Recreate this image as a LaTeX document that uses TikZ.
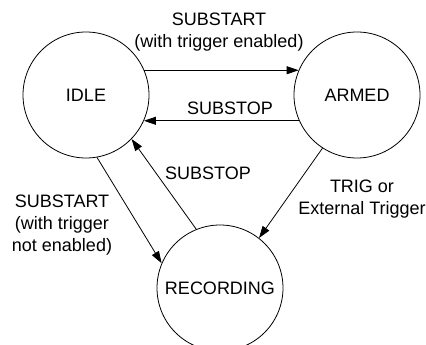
\documentclass[tikz,border=0pt]{standalone}
\usepackage{fontspec}
\setmainfont{Liberation Sans}
\usetikzlibrary{arrows.meta}
\begin{document}
\begin{tikzpicture}[x=1pt,y=-1pt,
  state/.style={circle,draw,line width=0.8pt,minimum size=126pt,inner sep=0pt,font=\fontsize{18}{21}\selectfont},
  lbl/.style={align=center,inner sep=0pt,font=\fontsize{18}{22}\selectfont},
  arr/.style={line width=0.8pt,-{Triangle[length=12pt,width=8pt]}}]
\useasboundingbox (0,0) rectangle (426,345);
\node[state] (idle) at (86,95) {IDLE};
\node[state] (armed) at (357,95) {ARMED};
\node[state] (rec) at (220,288) {RECORDING};
\draw[arr] (idle.23) -- (armed.157);
\draw[arr] (armed.-156) -- (idle.-24);
\draw[arr] (rec.112) -- (idle.-44);
\draw[arr] (idle.-80) -- (rec.157);
\draw[arr] (armed.-123) -- (rec.52);
\node[lbl] (l1) at (219,32) {SUBSTART\\(with trigger enabled)};
\node[lbl] (l2) at (230,108) {SUBSTOP};
\node[lbl] (l3) at (208,173) {SUBSTOP};
\node[lbl] (l4) at (62,225) {SUBSTART\\(with trigger\\not enabled)};
\node[lbl] (l5) at (362,199) {TRIG or\\External Trigger};
\end{tikzpicture}
\end{document}
